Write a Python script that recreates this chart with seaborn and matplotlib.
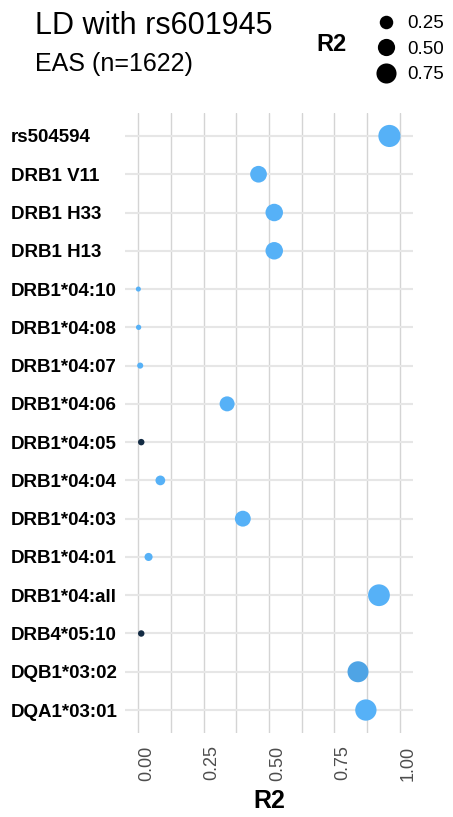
import numpy as np
import pandas as pd
import matplotlib
matplotlib.use("Agg")
import matplotlib.pyplot as plt
from matplotlib.colors import LinearSegmentedColormap
from matplotlib.lines import Line2D
import seaborn as sns

# ---- data ----
variants = ["rs504594", "DRB1 V11", "DRB1 H33", "DRB1 H13", "DRB1*04:10",
            "DRB1*04:08", "DRB1*04:07", "DRB1*04:06", "DRB1*04:05", "DRB1*04:04",
            "DRB1*04:03", "DRB1*04:01", "DRB1*04:all", "DRB4*05:10", "DQB1*03:02",
            "DQA1*03:01"]
r2 = [0.96, 0.46, 0.52, 0.52, 0.001,
      0.002, 0.008, 0.34, 0.012, 0.085,
      0.40, 0.04, 0.92, 0.012, 0.84,
      0.87]
dprime = [1.0, 1.0, 1.0, 1.0, 1.0,
          1.0, 1.0, 1.0, 0.0, 1.0,
          1.0, 1.0, 1.0, 0.0, 0.9,
          1.0]
legend_breaks = [0.25, 0.50, 0.75]
legend_labels = ["0.25", "0.50", "0.75"]
x_ticks = [0.0, 0.25, 0.5, 0.75, 1.0]
x_ticklabels = ["0.00", "0.25", "0.50", "0.75", "1.00"]
title = "LD with rs601945"
subtitle = "EAS (n=1622)"

df = pd.DataFrame({"variant": variants, "R2": r2, "Dprime": dprime})

W, H, DPI = 453, 817, 100
sns.set_theme(style="white")
plt.rcParams["font.family"] = ["Liberation Sans", "DejaVu Sans"]
plt.rcParams["text.color"] = "black"
plt.rcParams["axes.labelcolor"] = "black"

fig = plt.figure(figsize=(W / DPI, H / DPI), dpi=DPI)
ax = fig.add_axes([125 / W, 1 - 733 / H, (413 - 125) / W, (733 - 113) / H])

# ggplot-like area size scale (diameter in px -> points)
def diam_pt(v):
    return (4.5 + 18.0 * np.sqrt(v)) * 72 / DPI

size_map = {v: diam_pt(v) ** 2 for v in sorted(set(r2))}
cmap = LinearSegmentedColormap.from_list("gg", ["#132B43", "#56B1F7"])

sns.scatterplot(data=df, x="R2", y="variant", hue="Dprime", palette=cmap,
                hue_norm=(0, 1), size="R2", sizes=size_map, linewidth=0,
                legend=False, ax=ax, zorder=3)

n = len(variants)
ax.set_ylim(n - 1 + 0.6, -0.6)
ax.set_xlim(-0.05, 1.05)
ax.set_xticks(x_ticks)
ax.set_xticklabels(x_ticklabels, rotation=90, ha="left", va="top",
                   color="#4D4D4D", fontsize=13)
ax.set_xticks([0.125, 0.375, 0.625, 0.875], minor=True)
ax.set_yticks(range(n))
ax.set_yticklabels(variants, fontsize=13.5, fontweight="bold", color="black", ha="left")
ax.tick_params(axis="y", length=0, pad=(125 - 10.5) * 72 / DPI)
ax.tick_params(axis="x", which="both", length=0, pad=9)
ax.set_axisbelow(True)
ax.grid(axis="x", which="both", color="#D4D4D4", linewidth=1.0)
ax.grid(axis="y", which="major", color="#E6E6E6", linewidth=1.5)
for s in ax.spines.values():
    s.set_visible(False)
ax.set_ylabel("")
ax.set_xlabel("R2", fontsize=18, fontweight="bold", color="black", labelpad=6)

# titles
fig.text(35 / W, 1 - 34 / H, title, fontsize=22, color="black", ha="left", va="baseline")
fig.text(35 / W, 1 - 70.5 / H, subtitle, fontsize=18, color="black", ha="left", va="baseline")

# size legend
handles = [Line2D([], [], linestyle="none", marker="o", color="black",
                  markeredgewidth=0, markersize=diam_pt(b)) for b in legend_breaks]
leg = fig.legend(handles, legend_labels, loc="upper left",
                 bbox_to_anchor=(362 / W, 1 - 2 / H), frameon=False,
                 fontsize=13.5, handlelength=1.2, handletextpad=0.5,
                 labelspacing=0.45, borderpad=0.2)
for t in leg.get_texts():
    t.set_color("black")
fig.text(316 / W, 1 - 51 / H, "R2", fontsize=17, fontweight="bold", color="black",
         ha="left", va="baseline")

fig.savefig("out.png", dpi=DPI)
